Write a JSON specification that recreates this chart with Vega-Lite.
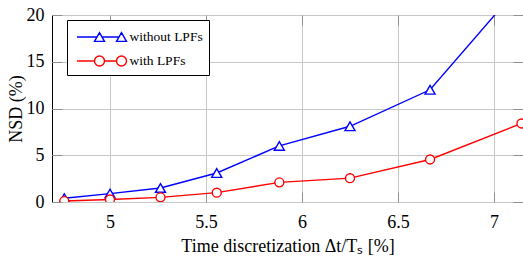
{
  "$schema": "https://vega.github.io/schema/vega-lite/v6.json",
  "width": 471,
  "height": 187,
  "autosize": {"type": "none"},
  "padding": {"left": 52, "top": 15, "right": 0, "bottom": 54},
  "background": "white",
  "config": {
    "view": {"stroke": "black", "strokeWidth": 1},
    "font": "Liberation Serif",
    "axis": {"labelColor": "black", "titleColor": "black", "titleFontWeight": "normal", "labelFont": "Liberation Serif", "titleFont": "Liberation Serif"}
  },
  "data": {
    "values": [
      {"x": 4.762, "NSD": 0.4, "series": "without LPFs"},
      {"x": 5.0, "NSD": 0.9, "series": "without LPFs"},
      {"x": 5.263, "NSD": 1.5, "series": "without LPFs"},
      {"x": 5.556, "NSD": 3.1, "series": "without LPFs"},
      {"x": 5.882, "NSD": 6.0, "series": "without LPFs"},
      {"x": 6.25, "NSD": 8.1, "series": "without LPFs"},
      {"x": 6.667, "NSD": 12.0, "series": "without LPFs"},
      {"x": 7.143, "NSD": 23.3, "series": "without LPFs"},
      {"x": 4.762, "NSD": 0.1, "series": "with LPFs"},
      {"x": 5.0, "NSD": 0.27, "series": "with LPFs"},
      {"x": 5.263, "NSD": 0.5, "series": "with LPFs"},
      {"x": 5.556, "NSD": 1.0, "series": "with LPFs"},
      {"x": 5.882, "NSD": 2.1, "series": "with LPFs"},
      {"x": 6.25, "NSD": 2.55, "series": "with LPFs"},
      {"x": 6.667, "NSD": 4.55, "series": "with LPFs"},
      {"x": 7.143, "NSD": 8.4, "series": "with LPFs"}
    ]
  },
  "encoding": {
    "x": {"field": "x", "type": "quantitative", "scale": {"domain": [4.698, 7.151], "nice": false, "zero": false}, "axis": null},
    "y": {"field": "NSD", "type": "quantitative", "scale": {"domain": [0, 20], "nice": false}, "axis": null}
  },
  "layer": [
    {
      "transform": [{"filter": "datum.series == 'without LPFs'"}],
      "mark": {"type": "line", "strokeWidth": 1.4, "clip": true, "stroke": "#0000ff"},
      "encoding": {
        "x": {"field": "x", "type": "quantitative", "scale": {"domain": [4.698, 7.151], "nice": false, "zero": false},
          "axis": {"orient": "bottom", "values": [5, 5.5, 6, 6.5, 7], "format": "~g", "title": "Time discretization Δt/Tₛ [%]",
            "grid": true, "gridColor": "#c8c8c8", "domain": false, "ticks": true, "tickSize": -10, "tickColor": "#909090",
            "labelFont": "Liberation Serif", "titleFont": "Liberation Serif",
            "labelPadding": 21, "labelFontSize": 18, "titleFontSize": 18, "titlePadding": 6}},
        "y": {"field": "NSD", "type": "quantitative", "scale": {"domain": [0, 20], "nice": false},
          "axis": {"orient": "left", "values": [0, 5, 10, 15, 20], "title": "NSD (%)",
            "grid": true, "gridColor": "#c8c8c8", "domain": false, "ticks": true, "tickSize": -10, "tickColor": "#909090",
            "labelFont": "Liberation Serif", "titleFont": "Liberation Serif",
            "labelPadding": 18, "labelFontSize": 18, "titleFontSize": 18, "titlePadding": 1}}
      }
    },
    {
      "transform": [{"filter": "datum.series == 'with LPFs'"}],
      "mark": {"type": "line", "strokeWidth": 1.4, "clip": true, "stroke": "#ff0000"},
      "encoding": {
        "x": {"field": "x", "type": "quantitative", "scale": {"domain": [4.698, 7.151], "nice": false, "zero": false},
          "axis": {"orient": "top", "values": [5, 5.5, 6, 6.5, 7], "labels": false, "grid": false, "domain": false, "tickSize": -10, "tickColor": "#909090", "title": null}},
        "y": {"field": "NSD", "type": "quantitative", "scale": {"domain": [0, 20], "nice": false},
          "axis": {"orient": "right", "values": [0, 5, 10, 15, 20], "labels": false, "grid": false, "domain": false, "tickSize": -10, "tickColor": "#909090", "title": null}}
      }
    },
    {
      "transform": [{"filter": "datum.series == 'without LPFs'"}],
      "mark": {"type": "point", "shape": "triangle-up", "size": 100, "filled": true, "fill": "white", "stroke": "#0000ff", "strokeWidth": 1.4, "opacity": 1, "clip": true}
    },
    {
      "transform": [{"filter": "datum.series == 'with LPFs'"}],
      "mark": {"type": "point", "shape": "circle", "size": 80, "filled": true, "fill": "white", "stroke": "#ff0000", "strokeWidth": 1.4, "opacity": 1, "clip": true}
    },
    {
      "transform": [{"filter": "false"}],
      "mark": {"type": "point", "filled": false, "fill": "white", "strokeWidth": 1.4, "opacity": 1},
      "encoding": {
        "color": {"field": "series", "type": "nominal", "scale": {"domain": ["without LPFs", "with LPFs"], "range": ["#0000ff", "#ff0000"]},
          "legend": {"title": null, "orient": "none", "legendX": 15, "legendY": 5, "strokeColor": "black", "fillColor": "white", "padding": 6,
            "symbolSize": 400, "symbolStrokeWidth": 1.4, "symbolFillColor": "white", "symbolOffset": 15.5, "labelOffset": 19,
            "labelExpr": "datum.label + '\u00a0\u00a0\u00a0'",
            "labelFont": "Liberation Serif", "labelFontSize": 13.5, "labelColor": "black", "rowPadding": 5, "symbolOpacity": 1}},
        "shape": {"field": "series", "type": "nominal",
          "scale": {"domain": ["without LPFs", "with LPFs"], "range": [
            "M-2.25,0H-0.25M0.25,0H1.95M0,-0.433L-0.5,0.433L0.5,0.433ZM2.2,-0.433L1.7,0.433L2.7,0.433Z",
            "M-2.25,0H-0.5M0.5,0H1.7M-0.5,0A0.5,0.5,0,1,0,0.5,0A0.5,0.5,0,1,0,-0.5,0ZM1.7,0A0.5,0.5,0,1,0,2.7,0A0.5,0.5,0,1,0,1.7,0Z"
          ]},
          "legend": {"title": null, "orient": "none", "legendX": 15, "legendY": 5, "strokeColor": "black", "fillColor": "white", "padding": 6,
            "symbolSize": 400, "symbolStrokeWidth": 1.4, "symbolFillColor": "white", "symbolOffset": 15.5, "labelOffset": 19,
            "labelExpr": "datum.label + '\u00a0\u00a0\u00a0'",
            "labelFont": "Liberation Serif", "labelFontSize": 13.5, "labelColor": "black", "rowPadding": 5, "symbolOpacity": 1}}
      }
    }
  ],
  "resolve": {"axis": {"x": "independent", "y": "independent"}}
}
